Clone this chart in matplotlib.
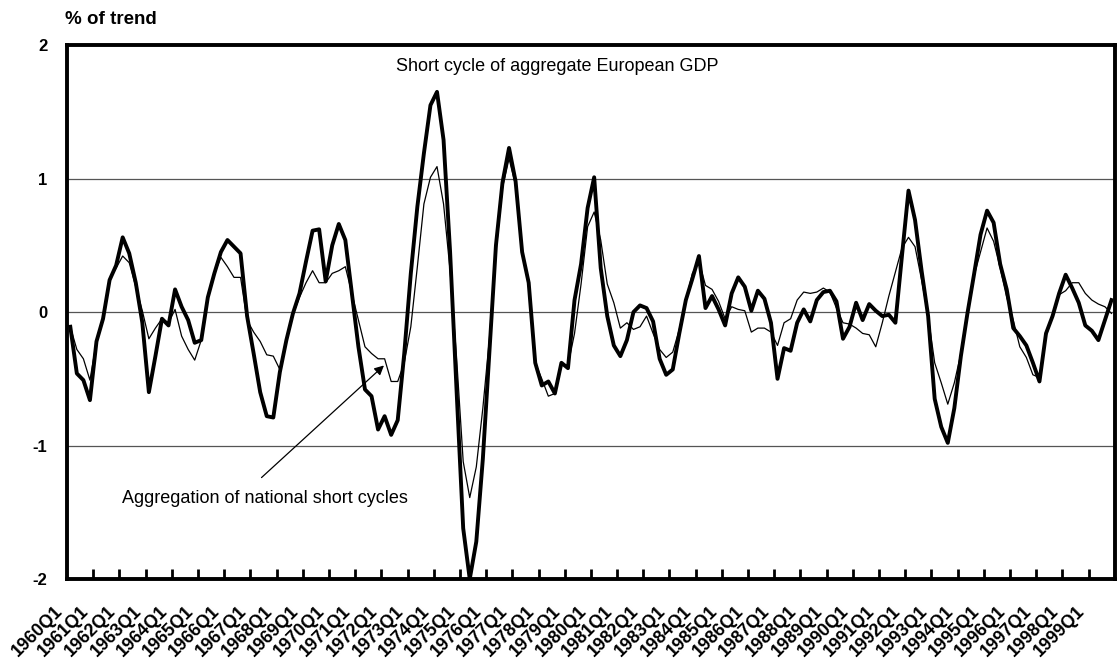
import matplotlib
matplotlib.use("Agg")
import matplotlib.pyplot as plt
import matplotlib.transforms as mtransforms
import numpy as np

plt.rcParams['font.family'] = ['Liberation Sans', 'DejaVu Sans']

# quarters 1960Q1 .. 1999Q4
years = list(range(1960, 2000))
quarters = [f"{y}Q{q}" for y in years for q in range(1, 5)]

# short cycle of aggregate European GDP (thick line), % of trend
euro_gdp = [
    -0.11, -0.46, -0.51, -0.66, -0.22, -0.05, 0.24, 0.35, 0.56, 0.44,
    0.22, -0.08, -0.60, -0.33, -0.05, -0.10, 0.17, 0.04, -0.06, -0.23,
    -0.21, 0.11, 0.29, 0.45, 0.54, 0.49, 0.44, -0.03, -0.31, -0.60,
    -0.78, -0.79, -0.45, -0.21, -0.01, 0.14, 0.38, 0.61, 0.62, 0.23,
    0.50, 0.66, 0.54, 0.14, -0.26, -0.58, -0.63, -0.88, -0.78, -0.92,
    -0.81, -0.31, 0.29, 0.79, 1.19, 1.55, 1.65, 1.29, 0.45, -0.60,
    -1.62, -2.00, -1.72, -1.10, -0.30, 0.50, 0.97, 1.23, 0.98, 0.45,
    0.22, -0.38, -0.55, -0.52, -0.61, -0.38, -0.42, 0.09, 0.36, 0.78,
    1.01, 0.33, -0.03, -0.25, -0.33, -0.21, 0.00, 0.05, 0.03, -0.07,
    -0.35, -0.47, -0.43, -0.16, 0.09, 0.25, 0.42, 0.03, 0.12, 0.02,
    -0.10, 0.14, 0.26, 0.19, 0.01, 0.16, 0.10, -0.08, -0.50, -0.27,
    -0.29, -0.08, 0.02, -0.07, 0.09, 0.15, 0.16, 0.08, -0.20, -0.11,
    0.07, -0.06, 0.06, 0.01, -0.03, -0.02, -0.08, 0.42, 0.91, 0.69,
    0.31, -0.03, -0.65, -0.86, -0.98, -0.72, -0.33, -0.01, 0.28, 0.58,
    0.76, 0.67, 0.36, 0.17, -0.12, -0.18, -0.25, -0.38, -0.52, -0.16,
    -0.03, 0.14, 0.28, 0.18, 0.07, -0.10, -0.14, -0.21, -0.06, 0.09,
]

# aggregation of national short cycles (thin line)
national_agg = [
    -0.11, -0.28, -0.35, -0.51, -0.22, -0.05, 0.24, 0.33, 0.42, 0.37,
    0.19, 0.01, -0.20, -0.12, -0.05, -0.08, 0.02, -0.18, -0.28, -0.36,
    -0.21, 0.11, 0.29, 0.41, 0.34, 0.26, 0.26, -0.06, -0.15, -0.22,
    -0.32, -0.33, -0.43, -0.22, -0.02, 0.11, 0.22, 0.31, 0.22, 0.22,
    0.29, 0.31, 0.34, 0.14, -0.06, -0.26, -0.31, -0.35, -0.35, -0.52,
    -0.52, -0.38, -0.11, 0.34, 0.81, 1.01, 1.09, 0.81, 0.31, -0.35,
    -1.12, -1.39, -1.16, -0.72, -0.20, 0.45, 0.93, 1.15, 0.95, 0.45,
    0.22, -0.38, -0.50, -0.63, -0.61, -0.39, -0.40, -0.16, 0.21, 0.64,
    0.75, 0.54, 0.21, 0.07, -0.12, -0.08, -0.13, -0.11, -0.03, -0.16,
    -0.28, -0.34, -0.30, -0.13, 0.09, 0.29, 0.38, 0.20, 0.17, 0.08,
    -0.05, 0.04, 0.02, 0.01, -0.15, -0.12, -0.12, -0.15, -0.25, -0.08,
    -0.05, 0.09, 0.15, 0.14, 0.15, 0.18, 0.15, 0.03, -0.08, -0.09,
    -0.12, -0.16, -0.17, -0.26, -0.08, 0.12, 0.30, 0.48, 0.56, 0.49,
    0.24, -0.03, -0.38, -0.53, -0.69, -0.53, -0.31, -0.01, 0.27, 0.45,
    0.63, 0.53, 0.33, 0.11, -0.06, -0.26, -0.34, -0.47, -0.49, -0.18,
    -0.03, 0.13, 0.16, 0.22, 0.22, 0.14, 0.09, 0.06, 0.04, -0.01,
]

x = np.arange(len(quarters))

fig = plt.figure(figsize=(11.17, 6.64), dpi=100)
ax = fig.add_axes([0.06, 0.128, 0.938, 0.804])

ax.plot(x, national_agg, color='black', lw=0.9, zorder=3)
ax.plot(x, euro_gdp, color='black', lw=2.8, zorder=4)

ax.set_xlim(-0.5, len(quarters) - 0.5)
ax.set_ylim(-2, 2)
ax.set_yticks([-2, -1, 0, 1, 2])
ax.set_yticklabels(['-2', '-1', '0', '1', '2'], fontsize=12, fontweight='bold')
ax.tick_params(axis='y', length=0, pad=14)
for v in [-1, 0, 1]:
    ax.axhline(v, color='#555555', lw=0.9, zorder=1)

# tick marks between years, labels on each Q1
ax.set_xticks(np.arange(3.5, len(quarters) - 1, 4))
ax.set_xticklabels([])
ax.tick_params(axis='x', which='major', direction='in', length=7, width=2)
ax.set_xticks(x[::4], minor=True)
ax.set_xticklabels(quarters[::4], minor=True, rotation=45, ha='right',
                   va='top', rotation_mode='anchor',
                   fontsize=13, fontweight='bold')
ax.tick_params(axis='x', which='minor', length=0, pad=17)
shift = mtransforms.ScaledTranslation(-0.16, 0, fig.dpi_scale_trans)
for lab in ax.get_xticklabels(minor=True):
    lab.set_transform(lab.get_transform() + shift)

for side in ['left', 'bottom', 'top', 'right']:
    ax.spines[side].set_linewidth(2.8)

fig.text(65 / 1117, 1 - 19 / 664, '% of trend', fontsize=13.5,
         fontweight='bold', ha='left', va='center')

ax.text(49.8, 1.84, 'Short cycle of aggregate European GDP', fontsize=13,
        ha='left', va='center')
ax.annotate('', xy=(47.9, -0.40), xytext=(29.2, -1.24),
            arrowprops=dict(arrowstyle='-|>', color='black', lw=0.9,
                            mutation_scale=14, shrinkA=0, shrinkB=0))
ax.text(7.9, -1.40, 'Aggregation of national short cycles', fontsize=13,
        ha='left', va='center')

fig.savefig('out.png', dpi=100)
